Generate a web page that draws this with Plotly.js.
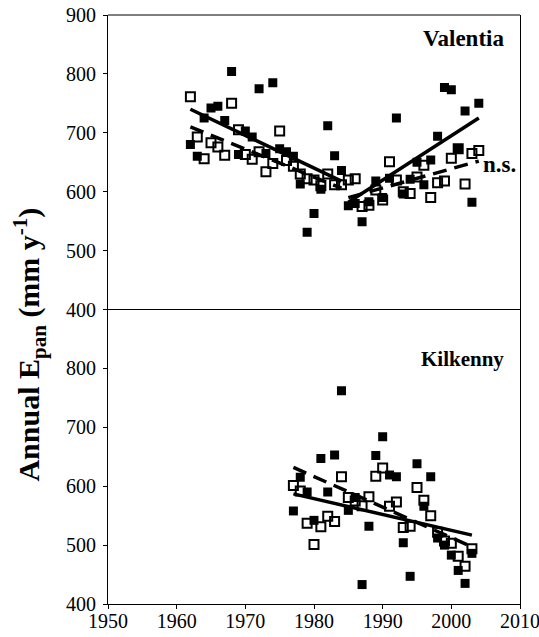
<!DOCTYPE html>
<html><head><meta charset="utf-8">
<script src="https://cdn.plot.ly/plotly-3.0.1.min.js"></script>
<style>html,body{margin:0;padding:0;background:#fff}</style>
</head><body>
<div id="chart" style="width:539px;height:637px"></div>
<script>
// Valentia (top panel)
const valYears = [1962,1963,1964,1965,1966,1967,1968,1969,1970,1971,1972,1973,1974,1975,1976,1977,1978,1979,1980,1981,1982,1983,1984,1985,1986,1987,1988,1989,1990,1991,1992,1993,1994,1995,1996,1997,1998,1999,2000,2001,2002,2003,2004];
const valFilled = [680,660,725,742,745,721,804,663,703,693,775,665,785,673,668,660,613,531,563,604,712,661,636,576,580,549,583,618,590,623,725,596,621,650,612,654,694,777,773,672,737,582,750];
const valOpen = [761,693,656,683,676,662,750,705,663,655,668,634,648,703,653,643,630,622,620,610,630,612,612,620,622,575,577,603,586,651,620,600,597,625,645,590,615,618,657,673,613,665,670];
// Valentia trend lines (endpoints)
const valSolid1X = [1962,1984], valSolid1Y = [740,618];
const valSolid2X = [1985,2004], valSolid2Y = [582,725];
const valDash1X = [1962,1984], valDash1Y = [710,606];
const valDash2X = [1985,2004], valDash2Y = [590,652];

// Kilkenny (bottom panel)
const kilYears = [1977,1978,1979,1980,1981,1982,1983,1984,1985,1986,1987,1988,1989,1990,1991,1992,1993,1994,1995,1996,1997,1998,1999,2000,2001,2002,2003];
const kilFilled = [558,615,590,542,647,590,653,762,559,581,433,532,652,684,619,616,504,447,638,566,616,512,500,483,457,435,486];
const kilOpen = [601,592,537,501,531,549,540,616,581,575,567,582,617,631,566,573,530,532,598,576,550,522,507,503,481,464,494];
const kilSolidX = [1977,2003], kilSolidY = [587,517];
const kilDashX = [1977,2003], kilDashY = [632,497];

const xTicks = [1950,1960,1970,1980,1990,2000,2010];
const yTicksTop = [400,500,600,700,800,900];
const yTicksBottom = [400,500,600,700,800];

const filledM = {symbol:'square', size:9, color:'#000', line:{width:0}};
const openM = {symbol:'square-open', size:9, color:'#000', line:{width:2}};
const solidL = {color:'#000', width:3.5};
const dashL = {color:'#000', width:3.5, dash:'14px,8px'};

const traces = [
  {x:valYears, y:valFilled, xaxis:'x2', yaxis:'y2', mode:'markers', marker:filledM, type:'scatter'},
  {x:valYears, y:valOpen, xaxis:'x2', yaxis:'y2', mode:'markers', marker:openM, type:'scatter'},
  {x:valSolid1X, y:valSolid1Y, xaxis:'x2', yaxis:'y2', mode:'lines', line:solidL},
  {x:valSolid2X, y:valSolid2Y, xaxis:'x2', yaxis:'y2', mode:'lines', line:solidL},
  {x:valDash1X, y:valDash1Y, xaxis:'x2', yaxis:'y2', mode:'lines', line:dashL},
  {x:valDash2X, y:valDash2Y, xaxis:'x2', yaxis:'y2', mode:'lines', line:dashL},
  {x:kilYears, y:kilFilled, xaxis:'x', yaxis:'y', mode:'markers', marker:filledM},
  {x:kilYears, y:kilOpen, xaxis:'x', yaxis:'y', mode:'markers', marker:openM},
  {x:kilSolidX, y:kilSolidY, xaxis:'x', yaxis:'y', mode:'lines', line:solidL},
  {x:kilDashX, y:kilDashY, xaxis:'x', yaxis:'y', mode:'lines', line:dashL}
];

const serif = 'Liberation Serif, Times New Roman, serif';
const tickFont = {family:serif, size:20, color:'#000'};
const axBase = {showline:true, linecolor:'#000', linewidth:1, mirror:true, showgrid:false, zeroline:false,
  ticks:'outside', ticklen:4, tickwidth:1, tickcolor:'#000', tickfont:tickFont};

const layout = {
  width:539, height:637,
  margin:{l:108, r:19, t:15, b:33},
  paper_bgcolor:'#fff', plot_bgcolor:'#fff',
  showlegend:false,
  xaxis: Object.assign({}, axBase, {range:[1950,2010], tickvals:xTicks, anchor:'y', domain:[0,1], ticklabelstandoff:-5, ticklabeloverflow:'allow'}),
  yaxis: Object.assign({}, axBase, {range:[400,900], tickvals:yTicksBottom, domain:[0,0.5], anchor:'x', ticklabelstandoff:3}),
  xaxis2: Object.assign({}, axBase, {range:[1950,2010], tickvals:xTicks, anchor:'y2', matches:'x', showticklabels:false, ticks:'', showline:false}),
  yaxis2: Object.assign({}, axBase, {range:[400,900], tickvals:yTicksTop, domain:[0.5,1], anchor:'x2', ticklabelstandoff:3}),
  shapes:[
    {type:'line', xref:'paper', yref:'paper', x0:0, x1:1, y0:1, y1:1, line:{color:'#000', width:1}},
    {type:'line', xref:'paper', yref:'paper', x0:0, x1:1, y0:0.5, y1:0.5, line:{color:'#000', width:1}}
  ],
  annotations:[
    {text:'<b>Valentia</b>', xref:'paper', yref:'paper', x:0.967, y:0.96, xanchor:'right', yanchor:'middle', showarrow:false,
     font:{family:serif, size:23, color:'#000'}},
    {text:'<b>Kilkenny</b>', xref:'paper', yref:'paper', x:0.967, y:0.416, xanchor:'right', yanchor:'middle', showarrow:false,
     font:{family:serif, size:21, color:'#000'}},
    {text:'<b>n.s.</b>', xref:'x2', yref:'y2', x:2004.3, y:646, xanchor:'left', yanchor:'middle', showarrow:false,
     font:{family:serif, size:23, color:'#000'}},
    {text:'<b>Annual E<sub>pan</sub> (mm y<sup>-1</sup>)</b>', xref:'paper', yref:'paper', x:-0.19, y:0.44, textangle:-90,
     xanchor:'center', yanchor:'middle', showarrow:false, font:{family:serif, size:30, color:'#000'}}
  ]
};

Plotly.newPlot('chart', traces, layout, {displayModeBar:false, staticPlot:true});
</script>
</body></html>
